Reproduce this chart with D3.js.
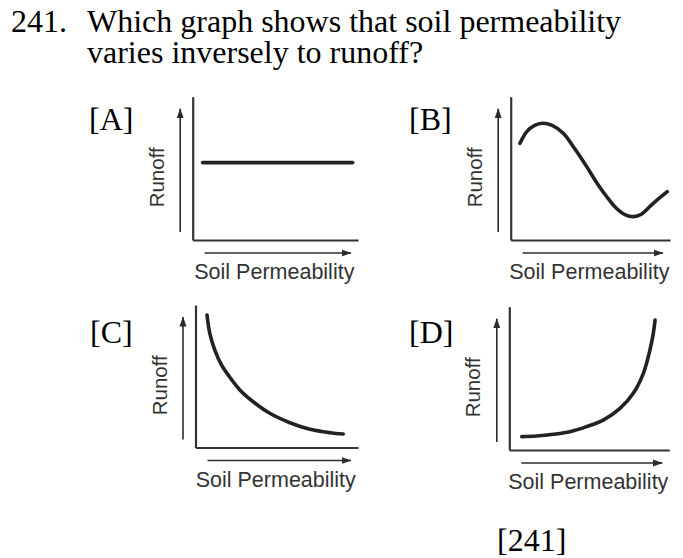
<!DOCTYPE html>
<html>
<head>
<meta charset="utf-8">
<script src="https://cdn.jsdelivr.net/npm/d3@7"></script>
<style>
  html, body { margin: 0; padding: 0; background: #fff; }
  svg { display: block; }
</style>
</head>
<body>
<svg id="chart" width="683" height="558"></svg>
<script>
// Question text
const questionNumber = "241.";
const questionLines = ["Which graph shows that soil permeability", "varies inversely to runoff?"];
const footerLabel = "[241]";

// Panels and axis titles
const panelLabels = ["[A]", "[B]", "[C]", "[D]"];
const xAxisTitle = "Soil Permeability";
const yAxisTitle = "Runoff";

// Sketched relationships, in percent of each axis (0–100)
const permeabilityA = [6, 96.8];
const runoffA = [54, 54];

const permeabilityB = [5.8, 10, 15, 20, 26, 33, 40, 47.7, 54, 60.3, 66, 72, 77, 82, 89.5, 98.3];
const runoffB = [67.5, 75.5, 80, 81.5, 80, 74.5, 64, 51.2, 40, 30.2, 22.5, 17.5, 16.3, 18, 25.6, 33.7];

const permeabilityC = [7.1, 8.8, 11.9, 16, 21.1, 27.3, 35.5, 45.7, 58.1, 70.4, 82.8, 90.9];
const runoffC = [93, 80.1, 68.4, 57.9, 49.3, 40.4, 32.1, 24, 17.4, 12.8, 10.4, 9.5];

const permeabilityD = [7.8, 17.1, 27.5, 37.9, 48.3, 58.7, 69.2, 77.5, 83.8, 87.9, 90, 91.1];
const runoffD = [9.3, 9.8, 11, 12.8, 16.3, 20.9, 29.1, 39.6, 53.5, 69.8, 81.4, 90.7];

const svg = d3.select("#chart");
const serif = "'Liberation Serif', 'Times New Roman', serif";
const sans = "'Liberation Sans', Arial, Helvetica, sans-serif";

// Question header: number, then the question as one two-line block
const header = svg.append("g")
  .attr("font-family", serif)
  .attr("font-size", 32)
  .attr("fill", "#000");
header.append("text").attr("x", 11).attr("y", 32).text(questionNumber);
header.append("text")
  .attr("y", 32)
  .selectAll("tspan")
  .data(questionLines)
  .join("tspan")
  .attr("x", 87)
  .attr("dy", (d, i) => i === 0 ? 0 : 31)
  .text(d => d);

// Arrowhead used on the axis direction arrows
svg.append("defs").append("marker")
  .attr("id", "head")
  .attr("viewBox", "0 0 10 8")
  .attr("refX", 9.5).attr("refY", 4)
  .attr("markerWidth", 10).attr("markerHeight", 8)
  .attr("markerUnits", "userSpaceOnUse")
  .attr("orient", "auto")
  .append("path")
  .attr("d", "M0,0.5 L10,4 L0,7.5 Z")
  .attr("fill", "#2b2b2b");

// Frame of each small graph: left/right/top/bottom in page pixels
const frames = [
  { left: 192.7, right: 358, top: 96.7, bottom: 240, tagX: 89, tagY: 130 },
  { left: 510.7, right: 670, top: 96.7, bottom: 240, tagX: 409, tagY: 130 },
  { left: 195.5, right: 358, top: 305, bottom: 447.5, tagX: 90, tagY: 343 },
  { left: 509.3, right: 669.3, top: 306.7, bottom: 450, tagX: 409, tagY: 343 }
];

const series = [
  { xs: permeabilityA, ys: runoffA, curve: d3.curveLinear },
  { xs: permeabilityB, ys: runoffB, curve: d3.curveCatmullRom.alpha(0.5) },
  { xs: permeabilityC, ys: runoffC, curve: d3.curveCatmullRom.alpha(0.5) },
  { xs: permeabilityD, ys: runoffD, curve: d3.curveCatmullRom.alpha(0.5) }
];

frames.forEach((f, i) => {
  const g = svg.append("g");
  const x = d3.scaleLinear().domain([0, 100]).range([f.left, f.right]);
  const y = d3.scaleLinear().domain([0, 100]).range([f.bottom, f.top]);

  // Panel tag
  g.append("text")
    .attr("x", f.tagX).attr("y", f.tagY)
    .attr("font-family", serif)
    .attr("font-size", 32)
    .attr("fill", "#000")
    .text(panelLabels[i]);

  // Axes without ticks: only the domain lines
  const xAxis = d3.axisBottom(x).tickValues([]).tickSizeOuter(0);
  const yAxis = d3.axisLeft(y).tickValues([]).tickSizeOuter(0);
  g.append("g").attr("transform", `translate(0,${f.bottom})`).call(xAxis)
    .select(".domain").attr("stroke", "#333").attr("stroke-width", 2.2);
  g.append("g").attr("transform", `translate(${f.left},0)`).call(yAxis)
    .select(".domain").attr("stroke", "#333").attr("stroke-width", 2.2);

  // Direction arrows beside the axes
  g.append("line")
    .attr("x1", f.left - 12.5).attr("x2", f.left - 12.5)
    .attr("y1", f.bottom - 8).attr("y2", f.top + 12)
    .attr("stroke", "#2b2b2b").attr("stroke-width", 1.6)
    .attr("marker-end", "url(#head)");
  g.append("line")
    .attr("x1", f.left + 12).attr("x2", f.right - 7)
    .attr("y1", f.bottom + 13).attr("y2", f.bottom + 13)
    .attr("stroke", "#2b2b2b").attr("stroke-width", 1.6)
    .attr("marker-end", "url(#head)");

  // Axis titles
  g.append("text")
    .attr("x", (f.left + f.right) / 2 - 1)
    .attr("y", f.bottom + 39)
    .attr("text-anchor", "middle")
    .attr("font-family", sans)
    .attr("font-size", 21.5)
    .attr("fill", "#333")
    .text(xAxisTitle);
  g.append("text")
    .attr("transform", `translate(${f.left - 29},${(f.top + f.bottom) / 2 + 9}) rotate(-90)`)
    .attr("text-anchor", "middle")
    .attr("font-family", sans)
    .attr("font-size", 20.5)
    .attr("fill", "#333")
    .text(yAxisTitle);

  // The relationship curve
  const s = series[i];
  const pts = s.xs.map((v, k) => [v, s.ys[k]]);
  const line = d3.line().x(d => x(d[0])).y(d => y(d[1])).curve(s.curve);
  g.append("path")
    .attr("d", line(pts))
    .attr("fill", "none")
    .attr("stroke", "#222")
    .attr("stroke-width", 3.6)
    .attr("stroke-linecap", "round")
    .attr("stroke-linejoin", "round");
});

// Footer reference number
svg.append("text")
  .attr("x", 497).attr("y", 551)
  .attr("font-family", serif)
  .attr("font-size", 32)
  .attr("fill", "#000")
  .text(footerLabel);
</script>
</body>
</html>
